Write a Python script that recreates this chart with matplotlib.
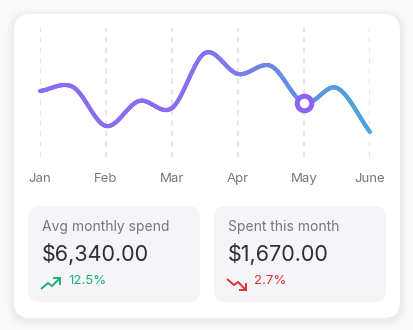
import numpy as np
import matplotlib
matplotlib.use("Agg")
import matplotlib.pyplot as plt
from matplotlib import transforms
from matplotlib.collections import LineCollection
from matplotlib.patches import FancyBboxPatch
from matplotlib.colors import to_rgb

plt.rcParams['font.family'] = ['Inter', 'DejaVu Sans']

# data (spend index), half-month steps
months = ['Jan', 'Feb', 'Mar', 'Apr', 'May', 'June']
x_pos = [0, 0.5, 1, 1.5, 2, 2.5, 3, 3.5, 4, 4.5, 5]
spend = [66, 70, 31, 56, 49, 104, 83, 91, 54, 69, 25]
highlight_idx = 8  # May

cards = ['Avg monthly spend', 'Spent this month']
card_values = ['$6,340.00', '$1,670.00']
card_changes = ['12.5%', '2.7%']
card_up = [True, False]

W, H = 414, 330
PURPLE = '#8b6cf1'
BLUE = '#4aa6da'


def catmull_rom(xs, ys, n=40):
    xs = np.asarray(xs, float)
    ys = np.asarray(ys, float)
    m = np.gradient(ys, xs)
    out_x, out_y = [], []
    for i in range(len(xs) - 1):
        t = np.linspace(0, 1, n)
        h = xs[i + 1] - xs[i]
        h00 = 2 * t**3 - 3 * t**2 + 1
        h10 = t**3 - 2 * t**2 + t
        h01 = -2 * t**3 + 3 * t**2
        h11 = t**3 - t**2
        out_x.append(xs[i] + t * h)
        out_y.append(h00 * ys[i] + h10 * h * m[i] + h01 * ys[i + 1] + h11 * h * m[i + 1])
    return np.concatenate(out_x), np.concatenate(out_y)


fig = plt.figure(figsize=(W / 100, H / 100), dpi=100)
fig.patch.set_facecolor('#f9f9f9')

# background axes in pixel coords
bg = fig.add_axes([0, 0, 1, 1])
bg.set_xlim(0, W)
bg.set_ylim(H, 0)
bg.axis('off')

# soft shadow + white card
for k, a in enumerate([0.018, 0.014, 0.010, 0.006]):
    g = (k + 1) * 2
    bg.add_patch(FancyBboxPatch((14 - g, 14 - g + 2), 386 + 2 * g, 304 + 2 * g,
                                boxstyle=f"round,pad=0,rounding_size={16 + g}",
                                fc='black', ec='none', alpha=a))
bg.add_patch(FancyBboxPatch((14, 14), 386, 304, boxstyle="round,pad=0,rounding_size=16",
                            fc='white', ec='none'))

# stat cards
for i, (title, val, chg, up) in enumerate(zip(cards, card_values, card_changes, card_up)):
    x0 = 28 + i * 186
    bg.add_patch(FancyBboxPatch((x0, 206), 172, 96, boxstyle="round,pad=0,rounding_size=12",
                                fc='#f5f5f7', ec='none'))
    bg.text(x0 + 14, 227, title, fontsize=10, color='#77777b', va='center', ha='left')
    bg.text(x0 + 14, 254, val, fontsize=15.5, color='#2e2e32', va='center', ha='left')
    col = '#1fb07e' if up else '#d8343c'
    ix = x0 + 13
    if up:
        bg.plot([ix, ix + 7, ix + 11, ix + 19], [289, 283, 286, 278], color=col, lw=1.4,
                solid_joinstyle='miter', solid_capstyle='butt')
        bg.plot([ix + 13, ix + 19, ix + 19], [278, 278, 284], color=col, lw=1.4,
                solid_joinstyle='miter')
    else:
        bg.plot([ix, ix + 7, ix + 11, ix + 19], [279, 285, 282, 290], color=col, lw=1.4,
                solid_joinstyle='miter', solid_capstyle='butt')
        bg.plot([ix + 13, ix + 19, ix + 19], [290, 290, 284], color=col, lw=1.4,
                solid_joinstyle='miter')
    bg.text(x0 + 40, 281, chg, fontsize=9.5, color=col, va='center', ha='left')

# chart axes
left, right, top, bottom = 40, 370, 28, 157
ax = fig.add_axes([left / W, 1 - bottom / H, (right - left) / W, (bottom - top) / H])
ax.set_xlim(0, 5)
ax.set_ylim(0, 129)
ax.axis('off')
ax.patch.set_alpha(0)

for m in range(len(months)):
    ax.axvline(m, color='#e6e6e8', lw=1.5, ls=(0, (2.5, 2.5)), zorder=1)

cx, cy = catmull_rom(x_pos, spend)
pts = np.column_stack([cx, cy]).reshape(-1, 1, 2)
segs = np.concatenate([pts[:-1], pts[1:]], axis=1)
c0, c1 = np.array(to_rgb(PURPLE)), np.array(to_rgb(BLUE))
frac = np.clip((cx[:-1] - 2.2) / (5 - 2.2), 0, 1)[:, None]
colors = c0 * (1 - frac) + c1 * frac
lc = LineCollection(segs, colors=colors, linewidths=3.0, capstyle='round',
                    joinstyle='round', zorder=3, clip_on=False)
ax.add_collection(lc)

ax.plot(x_pos[highlight_idx], spend[highlight_idx], 'o', ms=10.5, mfc='white',
        mec='#8a62f5', mew=3.6, zorder=4, clip_on=False)

tr = transforms.blended_transform_factory(ax.transData, bg.transData)
for m, name in enumerate(months):
    bg.text(m, 179, name, transform=tr, ha='center', va='center', fontsize=9.5,
            color='#77777b')

fig.savefig('out.png', dpi=100, facecolor=fig.get_facecolor())
